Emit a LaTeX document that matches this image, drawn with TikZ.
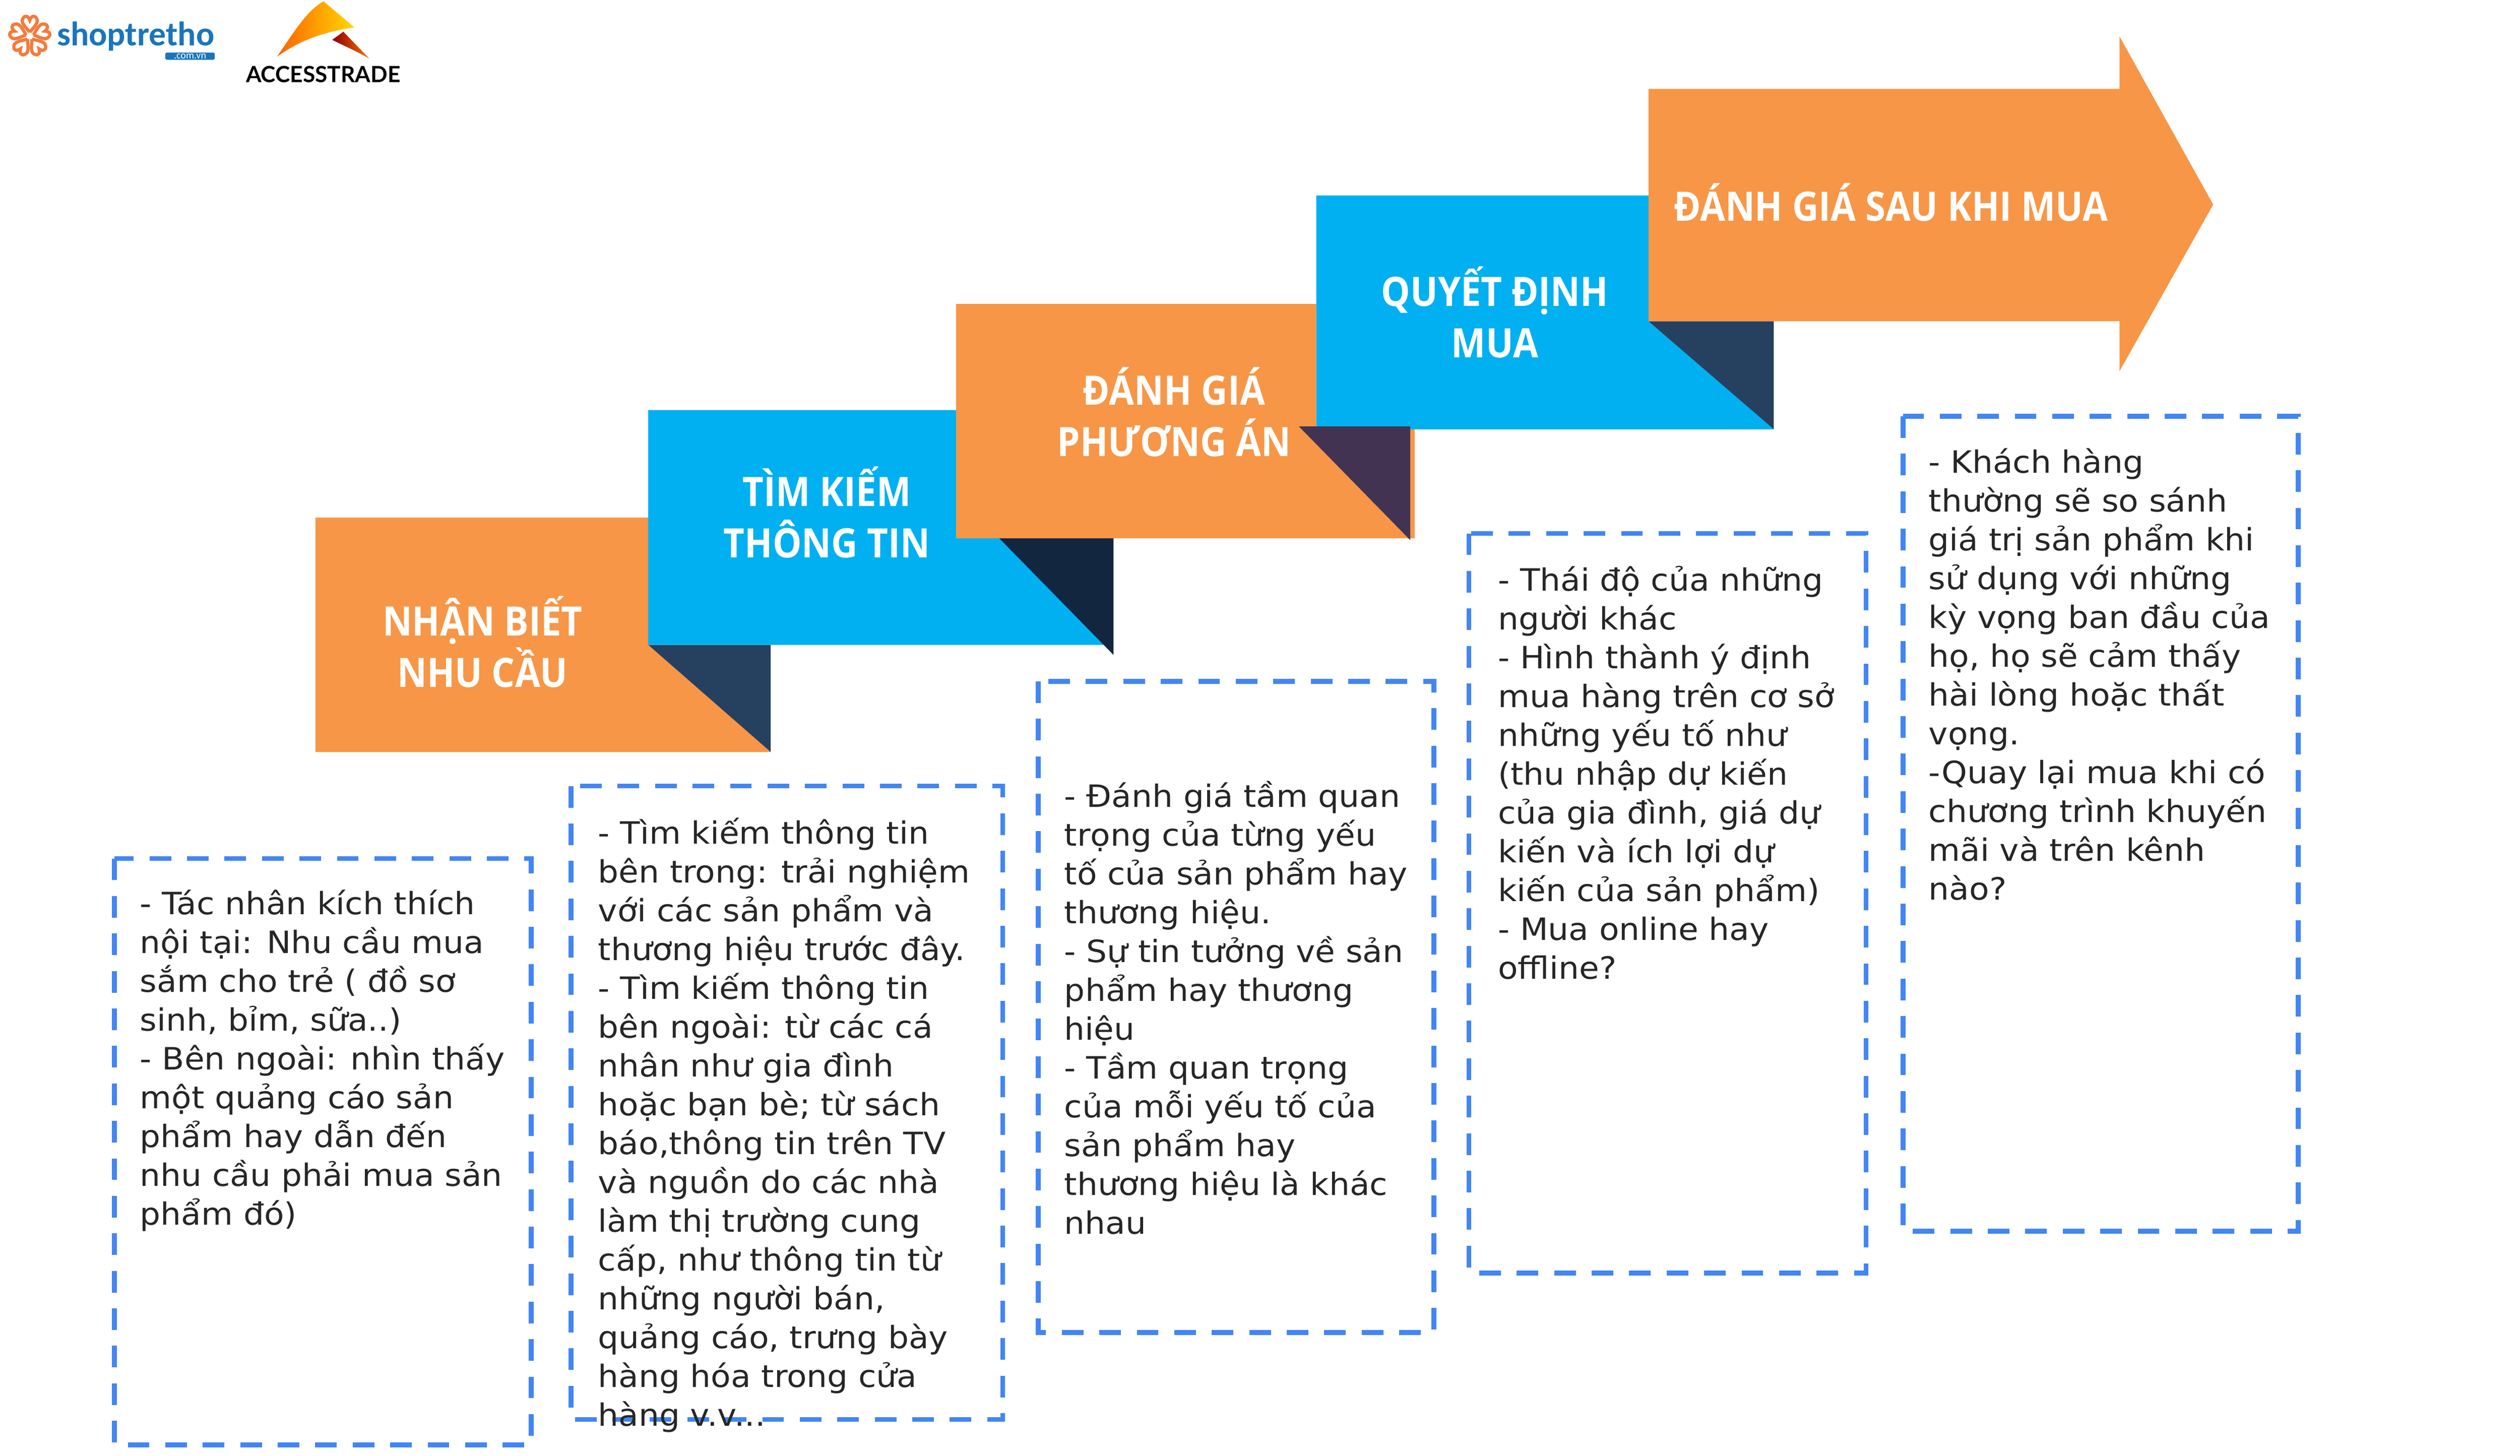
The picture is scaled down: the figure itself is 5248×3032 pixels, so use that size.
\documentclass[tikz,border=0pt]{standalone}
\usepackage{fontspec}
\setmainfont[FakeStretch=1.06]{DejaVu Sans}
\newfontfamily\headfont[FakeStretch=0.9]{Open Sans}
\newfontfamily\logofont{Carlito}
\newfontfamily\tradefont{Lato}
\definecolor{stepOrange}{HTML}{F79646}
\definecolor{stepBlue}{HTML}{00B0F0}
\definecolor{foldA}{HTML}{26405F}
\definecolor{foldB}{HTML}{12263F}
\definecolor{foldC}{HTML}{433352}
\definecolor{noteBlue}{HTML}{4285F4}
\definecolor{logoBlue}{HTML}{1A75BB}
\definecolor{logoOrange}{HTML}{F47B3C}
\tikzstyle{steplabel} =
[
	font=\headfont\bfseries\fontsize{24}{30.5}\selectfont
	, text=white
	, align=center
	, inner sep=0pt
]
\tikzstyle{notebox} =
[
	draw=noteBlue
	, line width=2.85pt
	, dash pattern=on 12.8pt off 9.4pt
]
\tikzstyle{notetext} =
[
	anchor=north west
	, align=left
	, inner sep=0pt
	, text=black!85
	, font=\fontsize{18.2}{22.98}\selectfont
]
\begin{document}
\begin{tikzpicture}[x=0.01cm, y=-0.01cm]
\useasboundingbox (0,0) rectangle (5248,3032);

% steps, back to front
\fill[stepOrange] (657,1078) -- (1350,1078) -- (1350,1343) -- (1605,1566) -- (657,1566) -- cycle;
\fill[foldA] (1350,1343) -- (1605,1343) -- (1605,1566) -- cycle;
\fill[stepBlue] (1350,854) -- (2100,854) -- (2100,1121) -- (2302,1343) -- (1350,1343) -- cycle;
\fill[foldB] (2081,1121) -- (2319,1121) -- (2319,1364) -- cycle;
\fill[stepOrange] (1991,633) -- (2741,633) -- (2741,890) -- (2946,890) -- (2946,1121) -- (1991,1121) -- cycle;
\fill[stepBlue] (2741,407) -- (3433,407) -- (3433,669) -- (3694,894) -- (2741,894) -- cycle;
\fill[foldC] (2705,888) -- (2937,888) -- (2937,1125) -- cycle;
\fill[foldA] (3433,669) -- (3694,669) -- (3694,894) -- cycle;
\fill[stepOrange] (3433,185) -- (4414,185) -- (4414,76) -- (4609,426) -- (4414,773) -- (4414,669) -- (3433,669) -- cycle;

\node(step1)[steplabel] at (1005,1337) {NHẬN BIẾT\\NHU CẦU};
\node(step2)[steplabel] at (1722,1067) {TÌM KIẾM\\THÔNG TIN};
\node(step3)[steplabel] at (2445,858) {ĐÁNH GIÁ\\PHƯƠNG ÁN};
\node(step4)[steplabel] at (3113,650) {QUYẾT ĐỊNH\\MUA};
\node(step5)[steplabel] at (3938,421) {ĐÁNH GIÁ SAU KHI MUA};

% dashed notes
\draw[notebox] (238,1788) rectangle (1106,3009);
\draw[notebox] (1189,1637) rectangle (2088,2956);
\draw[notebox] (2162,1419) rectangle (2986,2775);
\draw[notebox] (3059,1111) rectangle (3886,2651);
\draw[notebox] (3963,867) rectangle (4786,2564);

\node(note1)[notetext] at (291,1853) {- Tác nhân kích thích\\nội tại: Nhu cầu mua\\sắm cho trẻ ( đồ sơ\\sinh, bỉm, sữa..)\\- Bên ngoài: nhìn thấy\\một quảng cáo sản\\phẩm hay dẫn đến\\nhu cầu phải mua sản\\phẩm đó)};
\node(note2)[notetext] at (1245,1703) {- Tìm kiếm thông tin\\bên trong: trải nghiệm\\với các sản phẩm và\\thương hiệu trước đây.\\- Tìm kiếm thông tin\\bên ngoài: từ các cá\\nhân như gia đình\\hoặc bạn bè; từ sách\\báo,thông tin trên TV\\và nguồn do các nhà\\làm thị trường cung\\cấp, như thông tin từ\\những người bán,\\quảng cáo, trưng bày\\hàng hóa trong cửa\\hàng v.v...};
\node(note3)[notetext] at (2216,1626) {- Đánh giá tầm quan\\trọng của từng yếu\\tố của sản phẩm hay\\thương hiệu.\\- Sự tin tưởng về sản\\phẩm hay thương\\hiệu\\- Tầm quan trọng\\của mỗi yếu tố của\\sản phẩm hay\\thương hiệu là khác\\nhau};
\node(note4)[notetext] at (3119,1178) {- Thái độ của những\\người khác\\- Hình thành ý định\\mua hàng trên cơ sở\\những yếu tố như\\(thu nhập dự kiến\\của gia đình, giá dự\\kiến và ích lợi dự\\kiến của sản phẩm)\\- Mua online hay\\offline?};
\node(note5)[notetext] at (4016,933) {- Khách hàng\\thường sẽ so sánh\\giá trị sản phẩm khi\\sử dụng với những\\kỳ vọng ban đầu của\\họ, họ sẽ cảm thấy\\hài lòng hoặc thất\\vọng.\\-Quay lại mua khi có\\chương trình khuyến\\mãi và trên kênh\\nào?};

% logos
\foreach \ang in {0,72,144,216,288}
	\draw[logoOrange, line width=1.9pt, rotate around={\ang:(62,75)}, shift={(62,75)}]
		(0,-8) .. controls (-8,-18) and (-20,-28) .. (-14,-37) .. controls (-10,-44) and (-3,-42) .. (0,-33)
		.. controls (3,-42) and (10,-44) .. (14,-37) .. controls (20,-28) and (8,-18) .. (0,-8);
\node(shop)[anchor=base west, inner sep=0pt, text=logoBlue, font=\logofont\bfseries\fontsize{20.2}{20.2}\selectfont] at (118,95) {shoptretho};
\node(shoptag)[anchor=east, fill=logoBlue, rounded corners=1pt, minimum width=1.03cm, minimum height=0.15cm, inner sep=0pt, text=white, font=\logofont\fontsize{6}{6}\selectfont] at (448,117) {.com.vn};
\shade[left color=orange!75!red, right color=yellow!70!orange]
	(674,3) -- (738,57) .. controls (680,66) and (630,80) .. (577,118) .. controls (610,70) and (640,20) .. (674,3) -- cycle;
\shade[left color=red!55!black, right color=orange!85!red]
	(715,66) -- (769,122) .. controls (740,105) and (715,95) .. (692,83) -- cycle;
\node(trade)[anchor=base, inner sep=0pt, text=black, font=\tradefont\bfseries\fontsize{13.2}{13.2}\selectfont] at (673,172) {ACCESSTRADE};

\end{tikzpicture}
\end{document}
